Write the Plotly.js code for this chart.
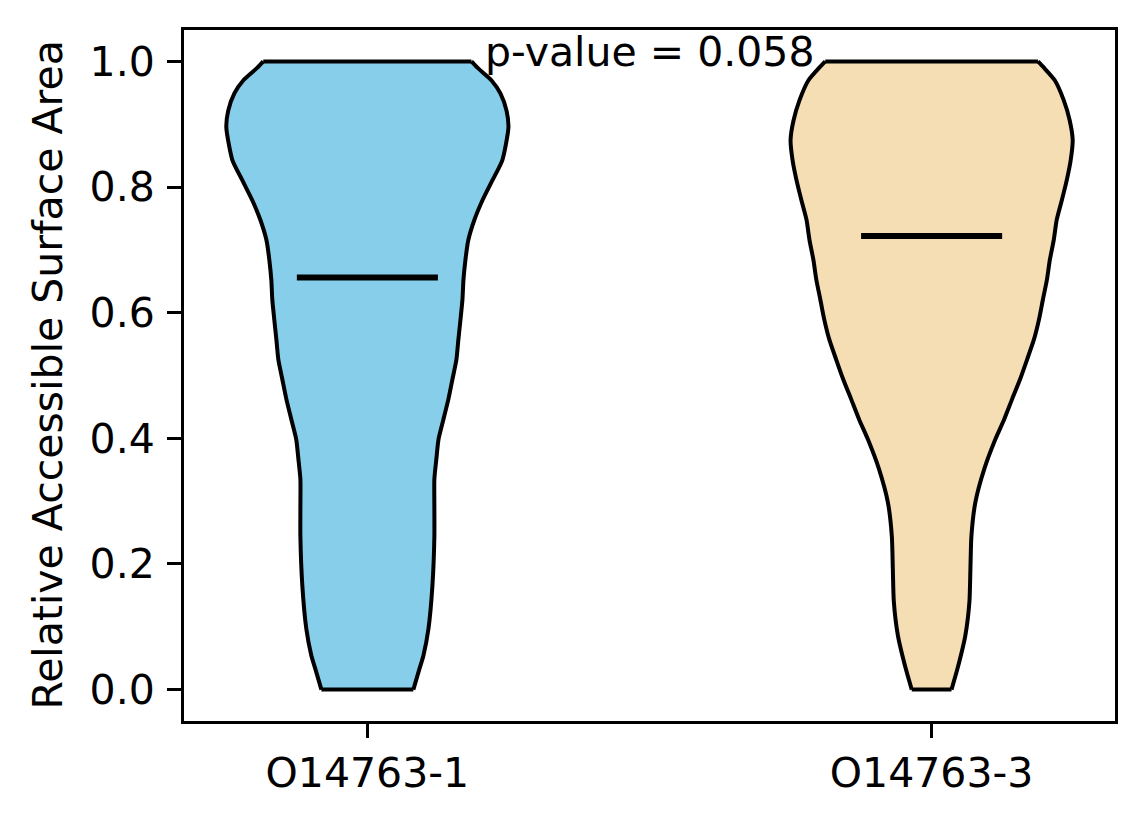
<!DOCTYPE html>
<html>
<head>
<meta charset="utf-8">
<script src="https://cdn.plot.ly/plotly-3.0.1.min.js"></script>
<style>html,body{margin:0;padding:0;background:#fff;}#chart{width:1144px;height:824px;}</style>
</head>
<body>
<div id="chart"></div>
<script>
// Categories and positions
const categories = ["O14763-1", "O14763-3"];
const positions = [1, 2];
const fillColors = ["#87CEEB", "#F5DEB3"];

// Means
const means = [0.656, 0.722];

// Violin 1 profile: values (RSA) and normalized density (max = 1)
const v1Values  = [0.000, 0.033, 0.054, 0.097, 0.165, 0.244, 0.287, 0.335, 0.367, 0.398, 0.430, 0.462, 0.494, 0.525, 0.557, 0.589, 0.621, 0.652, 0.684, 0.716, 0.748, 0.779, 0.811, 0.843, 0.895, 0.922, 0.949, 0.970, 0.990, 1.000];
const v1Density = [0.326, 0.369, 0.397, 0.433, 0.461, 0.475, 0.475, 0.475, 0.489, 0.504, 0.539, 0.574, 0.603, 0.631, 0.645, 0.660, 0.674, 0.681, 0.695, 0.716, 0.759, 0.816, 0.887, 0.957, 1.000, 0.986, 0.943, 0.879, 0.780, 0.738];

// Violin 2 profile
const v2Values  = [0.000, 0.033, 0.086, 0.140, 0.192, 0.244, 0.298, 0.351, 0.398, 0.430, 0.462, 0.494, 0.525, 0.557, 0.589, 0.621, 0.652, 0.684, 0.716, 0.748, 0.779, 0.811, 0.843, 0.875, 0.906, 0.938, 0.970, 0.990, 1.000];
const v2Density = [0.141, 0.183, 0.239, 0.268, 0.275, 0.282, 0.310, 0.373, 0.451, 0.514, 0.570, 0.627, 0.676, 0.725, 0.761, 0.789, 0.817, 0.838, 0.866, 0.887, 0.923, 0.958, 0.986, 1.000, 0.979, 0.937, 0.873, 0.796, 0.754];

const pValueText = "p-value = 0.058";

const HALF_WIDTH = 0.25; // violin widths = 0.5
const profiles = [[v1Values, v1Density], [v2Values, v2Density]];

const traces = [];
const outline = {color: "black", width: 4};
profiles.forEach(([vals, dens], i) => {
  const c = positions[i];
  const n = vals.length;
  const lx = vals.map((v, k) => c - HALF_WIDTH * dens[k]);
  const rx = vals.map((v, k) => c + HALF_WIDTH * dens[k]);
  // fill body (no outline)
  traces.push({
    type: "scatter", mode: "lines",
    x: lx.concat(rx.slice().reverse(), [lx[0]]),
    y: vals.concat(vals.slice().reverse(), [vals[0]]),
    fill: "toself", fillcolor: fillColors[i],
    line: {color: fillColors[i], width: 0.1},
    hoverinfo: "skip", showlegend: false
  });
  // left and right edges (smooth)
  [lx, rx].forEach(xs => traces.push({
    type: "scatter", mode: "lines", x: xs, y: vals,
    line: Object.assign({shape: "spline", smoothing: 0.6}, outline),
    hoverinfo: "skip", showlegend: false
  }));
  // flat top and bottom edges
  [0, n - 1].forEach(k => traces.push({
    type: "scatter", mode: "lines", x: [lx[k], rx[k]], y: [vals[k], vals[k]],
    line: outline, hoverinfo: "skip", showlegend: false
  }));
});
positions.forEach((c, i) => {
  traces.push({
    type: "scatter", mode: "lines",
    x: [c - HALF_WIDTH / 2, c + HALF_WIDTH / 2], y: [means[i], means[i]],
    line: {color: "black", width: 6}, hoverinfo: "skip", showlegend: false
  });
});

const font = {family: "DejaVu Sans, sans-serif", size: 41, color: "black"};
const layout = {
  width: 1144, height: 824,
  margin: {l: 184, r: 29, t: 30, b: 103, pad: 0},
  paper_bgcolor: "white", plot_bgcolor: "white",
  font: font,
  showlegend: false,
  xaxis: {
    range: [0.675, 2.325], tickmode: "array", tickvals: positions, ticktext: categories,
    showgrid: false, zeroline: false, showline: true, mirror: true, linecolor: "black", linewidth: 3,
    ticks: "outside", ticklen: 14, tickwidth: 3, tickcolor: "black", tickfont: font
  },
  yaxis: {
    range: [-0.05, 1.05], tickmode: "array", tickvals: [0, 0.2, 0.4, 0.6, 0.8, 1.0],
    ticktext: ["0.0", "0.2", "0.4", "0.6", "0.8", "1.0"],
    showgrid: false, zeroline: false, showline: true, mirror: true, linecolor: "black", linewidth: 3,
    ticks: "outside", ticklen: 14, tickwidth: 3, tickcolor: "black", tickfont: font,
    ticklabelstandoff: 4
  },
  annotations: [
    {text: pValueText, x: 1.5, y: 1.015, xref: "x", yref: "y", showarrow: false,
     xanchor: "center", yanchor: "middle", font: font},
    {text: "Relative Accessible Surface Area", x: 0, y: 0.5, xref: "paper", yref: "paper",
     showarrow: false, textangle: -90, xanchor: "center", yanchor: "middle", xshift: -137, font: font}
  ]
};

Plotly.newPlot("chart", traces, layout, {displayModeBar: false, staticPlot: true});
</script>
</body>
</html>
